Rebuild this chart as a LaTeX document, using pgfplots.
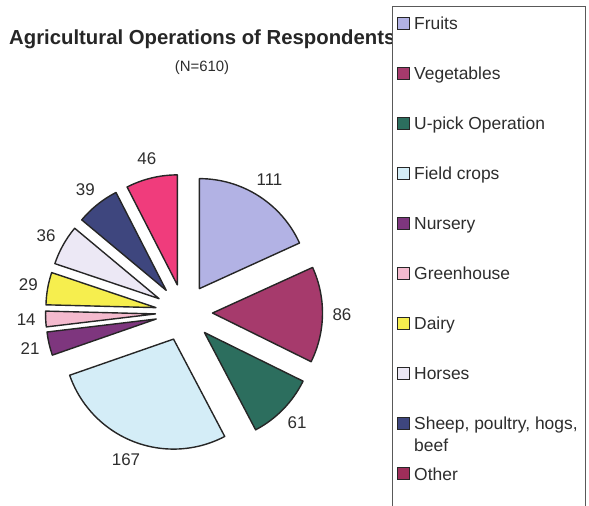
\documentclass[border=0pt]{standalone}
\usepackage{fontspec}
\setmainfont{Liberation Sans}
\usepackage{pgfplots}
\usepackage{pgfplotstable}
\pgfplotsset{compat=1.18}

\definecolor{cFruits}{RGB}{178,178,228}
\definecolor{cVeg}{RGB}{166,58,108}
\definecolor{cUpick}{RGB}{44,110,94}
\definecolor{cField}{RGB}{212,237,247}
\definecolor{cNursery}{RGB}{126,54,126}
\definecolor{cGreen}{RGB}{244,186,206}
\definecolor{cDairy}{RGB}{246,238,78}
\definecolor{cHorses}{RGB}{236,232,245}
\definecolor{cSheep}{RGB}{62,70,126}
\definecolor{cOther}{RGB}{240,60,124}
\definecolor{cOtherKey}{RGB}{158,46,90}
\definecolor{txt}{RGB}{45,45,45}

\tikzset{
  pielabel/.style={font=\fontsize{17}{20}\selectfont, text=txt},
  keytext/.style={anchor=base west, inner sep=0pt, text=txt, font=\fontsize{17.5}{20}\selectfont},
}

% number of respondents in each operation, clockwise from 12 o'clock
\pgfplotstableread{
value colour
111 cFruits
86  cVeg
61  cUpick
167 cField
21  cNursery
14  cGreen
29  cDairy
36  cHorses
39  cSheep
46  cOther
}\operations

\begin{document}
\begin{tikzpicture}
\begin{axis}[
  at={(0,0)}, anchor=south west,
  scale only axis, width=589bp, height=506bp,
  xmin=0, xmax=589, ymin=0, ymax=506,
  hide axis, clip=false,
]
% total of all slices
\pgfplotstablegetrowsof{\operations}
\pgfmathtruncatemacro\nrows{\pgfplotsretval-1}
\def\total{0}
\pgfplotsforeachungrouped \i in {0,...,\nrows}{%
  \pgfplotstablegetelem{\i}{value}\of\operations
  \pgfmathsetmacro\total{\total+\pgfplotsretval}%
}
% exploded pie: centre, radius, offset of every slice, label radius
\def\cx{184}\def\cy{193.4}\def\rad{110}\def\off{28.5}\def\lab{158}
\def\cum{0}
\pgfplotsforeachungrouped \i in {0,...,\nrows}{%
  \pgfplotstablegetelem{\i}{value}\of\operations \let\v\pgfplotsretval
  \pgfplotstablegetelem{\i}{colour}\of\operations \let\c\pgfplotsretval
  \pgfmathsetmacro\aS{90-\cum/\total*360}%
  \pgfmathsetmacro\aE{90-(\cum+\v)/\total*360}%
  \pgfmathsetmacro\aM{(\aS+\aE)/2}%
  \pgfmathsetmacro\ox{\cx+\off*cos(\aM)}%
  \pgfmathsetmacro\oy{\cy+\off*sin(\aM)}%
  \pgfmathsetmacro\px{\ox+\rad*cos(\aS)}%
  \pgfmathsetmacro\py{\oy+\rad*sin(\aS)}%
  \pgfmathsetmacro\lx{\cx+\lab*cos(\aM)}%
  \pgfmathsetmacro\ly{\cy+\lab*sin(\aM)}%
  \edef\slice{%
    \noexpand\filldraw[fill=\c, draw=black!85, line width=1.4bp, line join=round]
      (axis cs:\ox,\oy) -- (axis cs:\px,\py)
      arc[start angle=\aS, end angle=\aE, radius=\rad bp] -- cycle;
    \noexpand\node[pielabel] at (axis cs:\lx,\ly) {\v};
  }\slice
  \pgfmathsetmacro\cum{\cum+\v}%
}

% title
\node[anchor=base west, inner sep=0pt, text=black!85]
  at (axis cs:9,461) {\fontsize{20.4}{24}\selectfont\bfseries Agricultural Operations of Respondents};
\node[anchor=base, inner sep=0pt, text=txt]
  at (axis cs:202,434) {\fontsize{15}{18}\selectfont (N=610)};

% key
\filldraw[fill=white, draw=black!65, line width=1bp] (axis cs:392,499) rectangle (axis cs:585,-20);
\pgfplotsforeachungrouped \y/\col in {476/cFruits, 426/cVeg, 376/cUpick, 326/cField,
    276/cNursery, 226/cGreen, 176/cDairy, 126/cHorses, 76/cSheep, 26/cOtherKey}{%
  \pgfmathsetmacro\yt{\y+12}%
  \edef\entry{%
    \noexpand\filldraw[fill=\col, draw=black!85, line width=1bp]
      (axis cs:397,\y) rectangle (axis cs:409,\yt);
  }\entry
}
\node[keytext] at (axis cs:414,476) {Fruits};
\node[keytext] at (axis cs:414,426) {Vegetables};
\node[keytext] at (axis cs:414,376) {U-pick Operation};
\node[keytext] at (axis cs:414,326) {Field crops};
\node[keytext] at (axis cs:414,276) {Nursery};
\node[keytext] at (axis cs:414,226) {Greenhouse};
\node[keytext] at (axis cs:414,176) {Dairy};
\node[keytext] at (axis cs:414,126) {Horses};
\node[keytext] at (axis cs:414,76) {Sheep, poultry, hogs,};
\node[keytext] at (axis cs:414,54) {beef};
\node[keytext] at (axis cs:414,26) {Other};
\end{axis}
\pgfresetboundingbox
\path[use as bounding box] (current axis.south west) rectangle (current axis.north east);
\end{tikzpicture}
\end{document}
